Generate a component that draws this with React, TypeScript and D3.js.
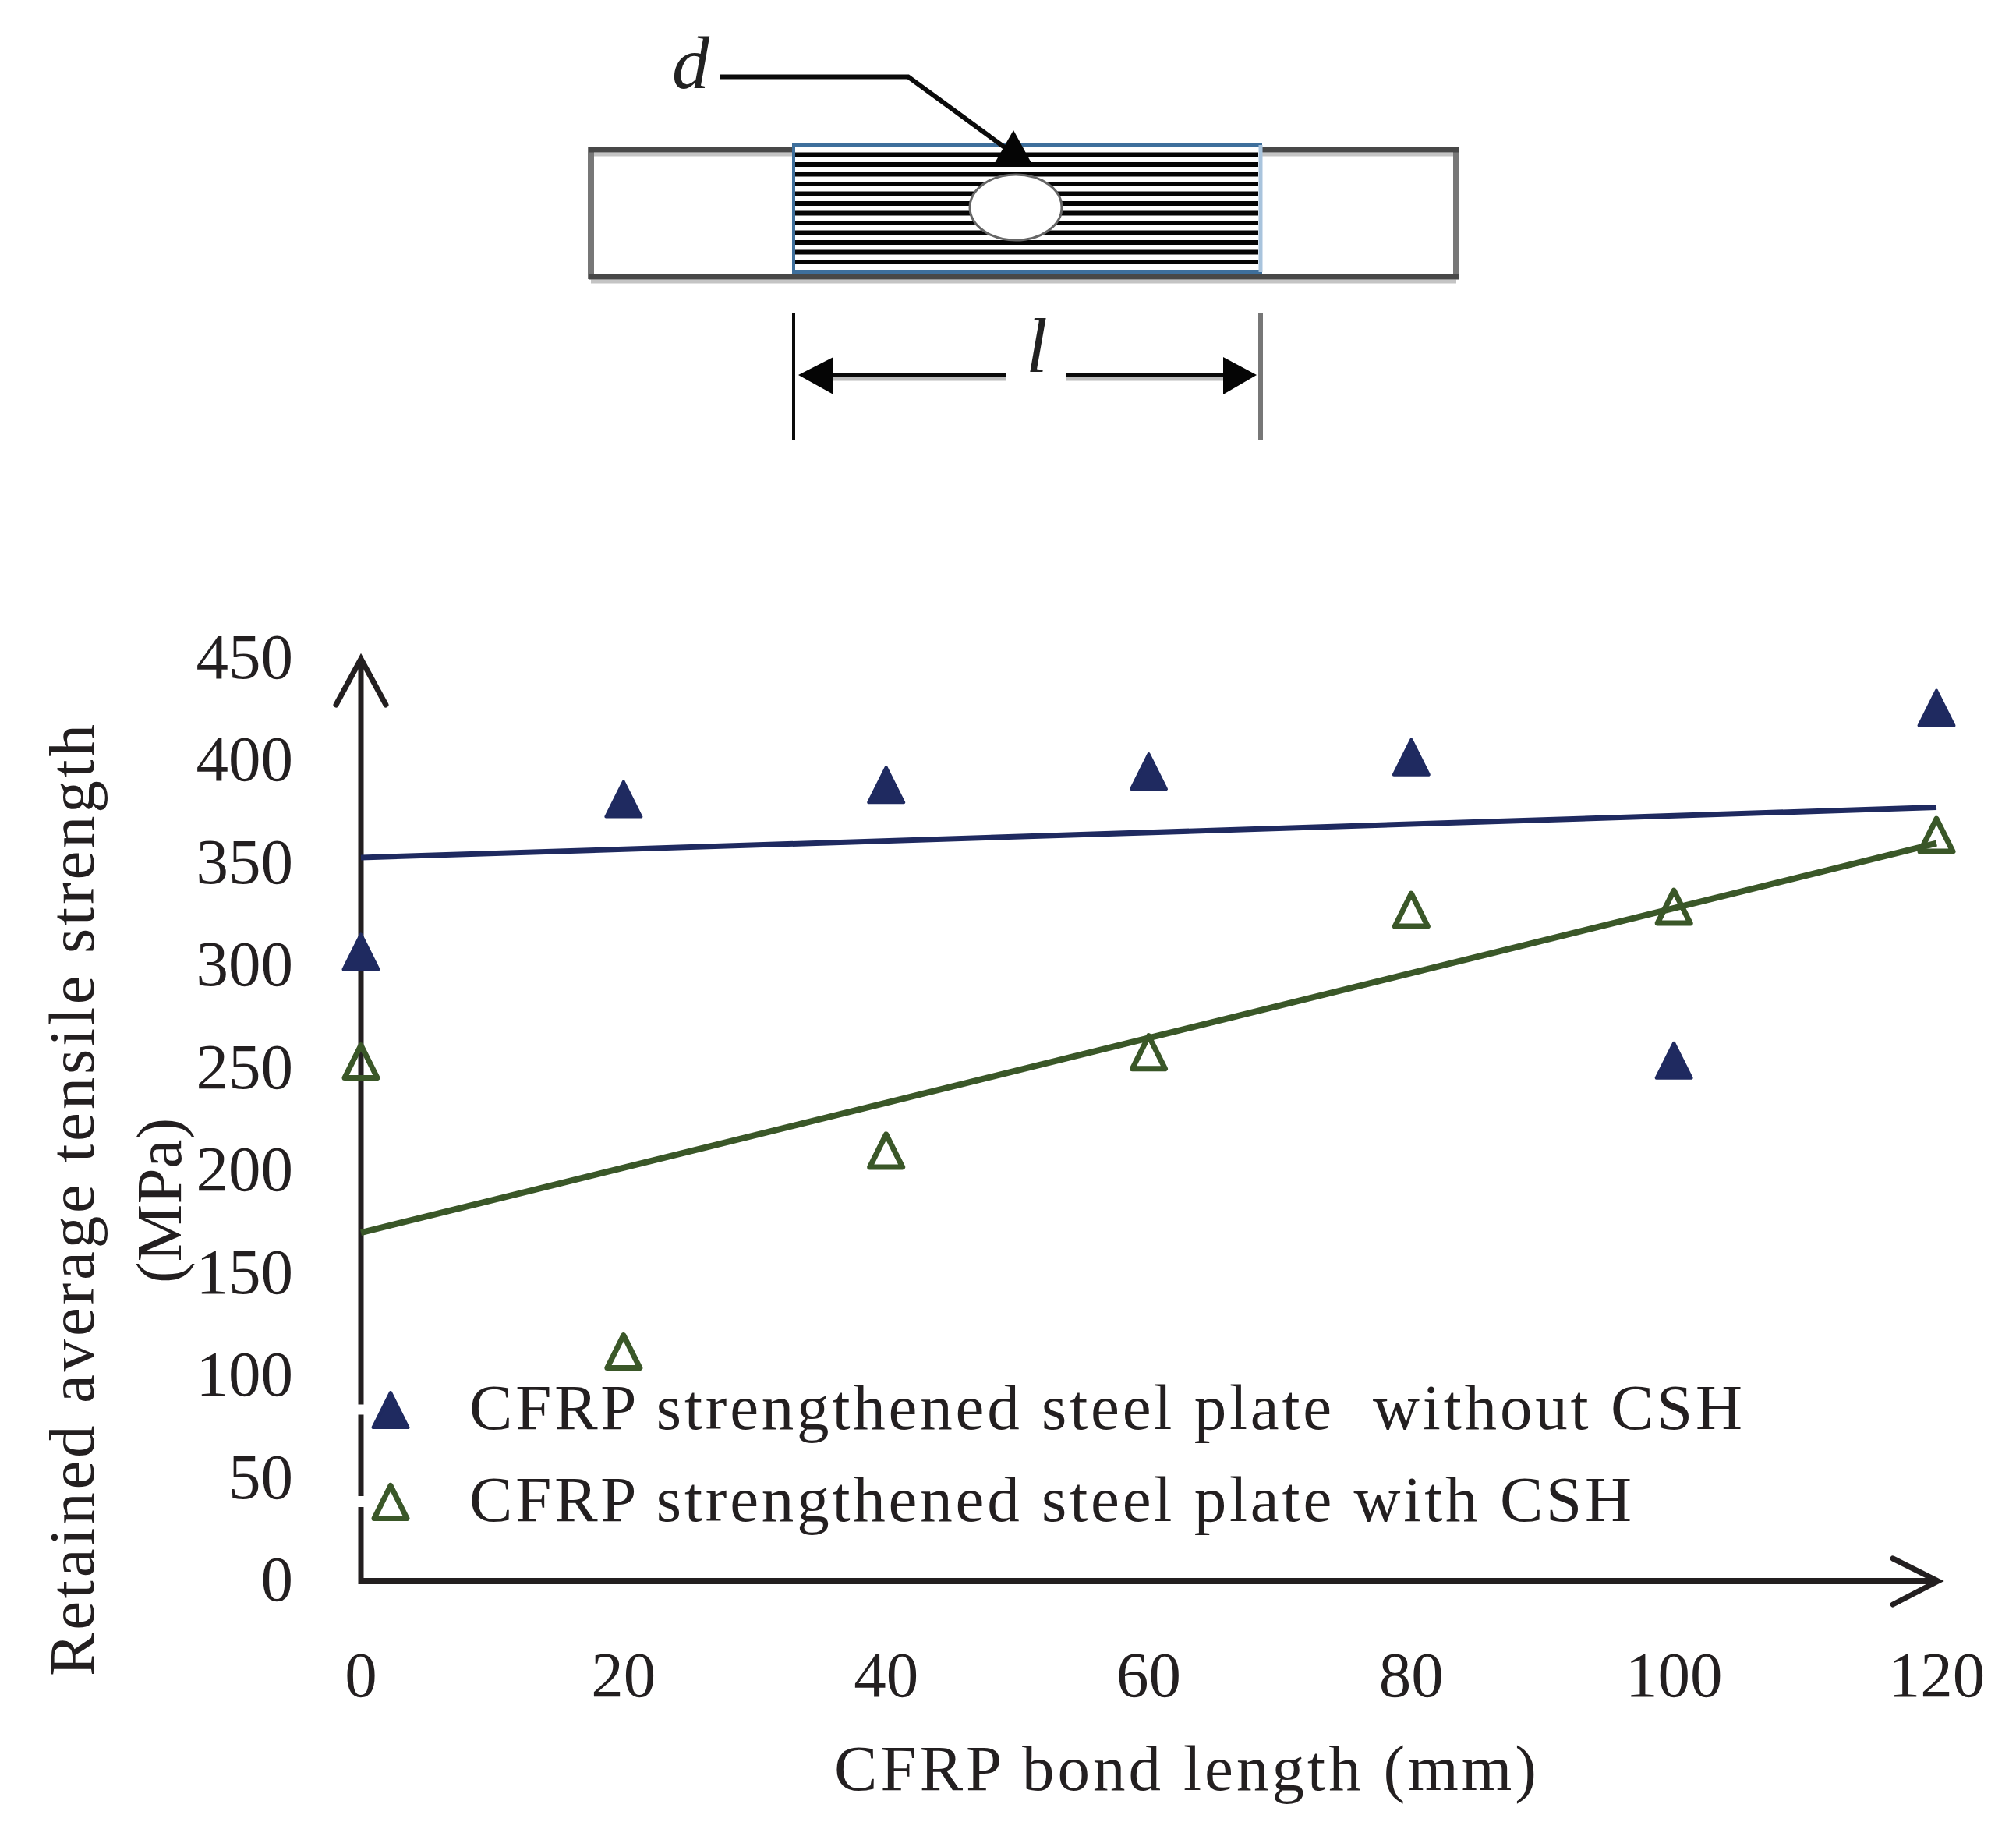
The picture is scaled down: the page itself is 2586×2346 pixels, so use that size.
import * as d3 from "d3";

const WIDTH = 2586;
const HEIGHT = 2346;

const bondLength = [0, 20, 40, 60, 80, 100, 120];
const withoutCsh = [307, 381.5, 388.5, 395, 402, 254, 426];
const withCsh = [253.5, 112, 210, 258, 327.5, 329, 364];
const withoutCshFit = [353, 377.5]; // trend line at 0 and 120 mm
const withCshFit = [170, 360];
const xTicks = [0, 20, 40, 60, 80, 100, 120];
const yTicks = [0, 50, 100, 150, 200, 250, 300, 350, 400, 450];

const legendLabels = ["CFRP strengthened steel plate  without CSH", "CFRP strengthened steel plate with CSH"];
const legendLengths = [1633, 1491];

const COLORS = {
  ink: "#231f20",
  navy: "#1f2a60",
  green: "#3a5728",
  cfrp: "#3e6f9c",
};
const SERIF = "'Liberation Serif', serif";
const FONT_SIZE = 83;

const x = d3.scaleLinear().domain([0, 120]).range([463, 2484]);
const y = d3.scaleLinear().domain([0, 450]).range([2028, 845]);

const fitLine = d3
  .line<number>()
  .x((_, i) => x(i === 0 ? 0 : 120))
  .y((d) => y(d));

// triangle centred on the value, 49px across outer edge
const SOLID_TRI = "M0,-22.5L22.5,22.5L-22.5,22.5Z";
const OPEN_TRI = "M0,-21L21,21L-21,21Z";

function Marker({ px, py, solid }: { px: number; py: number; solid: boolean }) {
  return (
    <path
      d={solid ? SOLID_TRI : OPEN_TRI}
      transform={`translate(${px},${py})`}
      fill={solid ? COLORS.navy : "none"}
      stroke={solid ? COLORS.navy : COLORS.green}
      strokeWidth={solid ? 4 : 7}
      strokeLinejoin="round"
    />
  );
}

// specimen sketch above the chart
function Specimen() {
  const hatch = d3.range(12).map((i) => 198.5 + i * 12.5);
  return (
    <g>
      <line x1={758} x2={1868} y1={198} y2={198} stroke="#c4c4c4" strokeWidth={5} />
      <line x1={758} x2={1868} y1={361} y2={361} stroke="#c4c4c4" strokeWidth={5} />
      <line x1={758} x2={758} y1={188} y2={358} stroke="#777" strokeWidth={8} />
      <line x1={1868} x2={1868} y1={188} y2={358} stroke="#777" strokeWidth={8} />
      <line x1={755} x2={1872} y1={192} y2={192} stroke="#484848" strokeWidth={7} />
      <line x1={755} x2={1872} y1={355} y2={355} stroke="#484848" strokeWidth={7} />

      <rect x={1018} y={186} width={599} height={163} fill="#fff" />
      {hatch.map((h) => (
        <line key={h} x1={1020} x2={1614} y1={h} y2={h} stroke="#050505" strokeWidth={6} />
      ))}
      <line x1={1016} x2={1619} y1={186} y2={186} stroke={COLORS.cfrp} strokeWidth={5} />
      <line x1={1016} x2={1619} y1={349} y2={349} stroke={COLORS.cfrp} strokeWidth={6} />
      <line x1={1018} x2={1018} y1={186} y2={349} stroke={COLORS.cfrp} strokeWidth={4} />
      <line x1={1617} x2={1617} y1={186} y2={349} stroke="#a9c4dd" strokeWidth={5} />

      <ellipse cx={1303} cy={266} rx={59} ry={42} fill="#fff" stroke="#666" strokeWidth={3} />

      <text x={862} y={113} fontFamily={SERIF} fontStyle="italic" fontSize={96} fill="#222">
        d
      </text>
      <path d="M924,98.5H1165L1290,190" fill="none" stroke="#0a0a0a" strokeWidth={6} />
      <path d="M1300,167L1323,209L1276,209Z" fill="#050505" />

      <line x1={1018} x2={1018} y1={402} y2={565} stroke="#0a0a0a" strokeWidth={4} />
      <line x1={1617} x2={1617} y1={402} y2={565} stroke="#777" strokeWidth={6} />
      <line x1={1040} x2={1290} y1={486} y2={486} stroke="#bdbdbd" strokeWidth={5} />
      <line x1={1367} x2={1600} y1={486} y2={486} stroke="#bdbdbd" strokeWidth={5} />
      <line x1={1030} x2={1290} y1={481} y2={481} stroke="#0a0a0a" strokeWidth={6} />
      <line x1={1367} x2={1605} y1={481} y2={481} stroke="#0a0a0a" strokeWidth={6} />
      <path d="M1024,481L1069,458V506Z" fill="#050505" />
      <path d="M1612,481L1569,458V506Z" fill="#050505" />
      <text x={1316} y={477} fontFamily={SERIF} fontStyle="italic" fontSize={100} fill="#222">
        l
      </text>
    </g>
  );
}

export default function App() {
  return (
    <svg
      width={WIDTH}
      height={HEIGHT}
      viewBox={`0 0 ${WIDTH} ${HEIGHT}`}
      style={{ position: "absolute", left: 0, top: 0, display: "block", background: "#fff" }}
    >
      <Specimen />

      {/* axes */}
      <line x1={x(0)} x2={x(0)} y1={y(450) + 4} y2={y(0) + 4} stroke={COLORS.ink} strokeWidth={7} />
      <line x1={x(0) - 3} x2={x(120) + 2} y1={y(0)} y2={y(0)} stroke={COLORS.ink} strokeWidth={8} />
      <path
        d={`M${x(0) - 32},${y(450) + 59}L${x(0)},${y(450)}L${x(0) + 32},${y(450) + 59}`}
        fill="none"
        stroke={COLORS.ink}
        strokeWidth={7}
        strokeLinecap="round"
      />
      <path
        d={`M${x(120) - 56},${y(0) - 29}L${x(120) + 2},${y(0)}L${x(120) - 56},${y(0) + 30}`}
        fill="none"
        stroke={COLORS.ink}
        strokeWidth={7}
        strokeLinecap="round"
      />
      {/* legend knocks small gaps out of the y axis */}
      <line x1={x(0) - 6} x2={x(0) + 6} y1={1808} y2={1808} stroke="#fff" strokeWidth={13} />
      <line x1={x(0) - 6} x2={x(0) + 6} y1={1926} y2={1926} stroke="#fff" strokeWidth={14} />

      {/* ticks */}
      {yTicks.map((t) => (
        <text key={t} x={376} y={y(t) + 25} textAnchor="end" fontFamily={SERIF} fontSize={FONT_SIZE} fill={COLORS.ink}>
          {t}
        </text>
      ))}
      {xTicks.map((t) => (
        <text key={t} x={x(t)} y={2176} textAnchor="middle" fontFamily={SERIF} fontSize={FONT_SIZE} fill={COLORS.ink}>
          {t}
        </text>
      ))}

      {/* titles */}
      <text
        transform="translate(120,2150) rotate(-90)"
        fontFamily={SERIF}
        fontSize={FONT_SIZE}
        fill={COLORS.ink}
        textLength={1221}
        lengthAdjust="spacing"
      >
        Retained average tensile strength
      </text>
      <text
        transform="translate(232,1540) rotate(-90)"
        textAnchor="middle"
        fontFamily={SERIF}
        fontSize={FONT_SIZE}
        fill={COLORS.ink}
      >
        (MPa)
      </text>
      <text x={1070} y={2296} fontFamily={SERIF} fontSize={FONT_SIZE} fill={COLORS.ink} textLength={901} lengthAdjust="spacing">
        CFRP bond length (mm)
      </text>

      {/* trend lines */}
      <path d={fitLine(withoutCshFit) ?? ""} fill="none" stroke={COLORS.navy} strokeWidth={7} />
      <path d={fitLine(withCshFit) ?? ""} fill="none" stroke={COLORS.green} strokeWidth={8} />

      {/* points */}
      {bondLength.map((b, i) => (
        <Marker key={`a${b}`} px={x(b)} py={y(withoutCsh[i])} solid />
      ))}
      {bondLength.map((b, i) => (
        <Marker key={`b${b}`} px={x(b)} py={y(withCsh[i])} solid={false} />
      ))}

      {/* legend */}
      {legendLabels.map((label, i) => {
        const baseline = i === 0 ? 1833 : 1951;
        return (
          <g key={label}>
            <Marker px={501} py={baseline - 24.5} solid={i === 0} />
            <text
              x={602}
              y={baseline}
              fontFamily={SERIF}
              fontSize={FONT_SIZE}
              fill={COLORS.ink}
              xmlSpace="preserve"
              style={{ whiteSpace: "pre" }}
              textLength={legendLengths[i]}
              lengthAdjust="spacing"
            >
              {label}
            </text>
          </g>
        );
      })}
    </svg>
  );
}
